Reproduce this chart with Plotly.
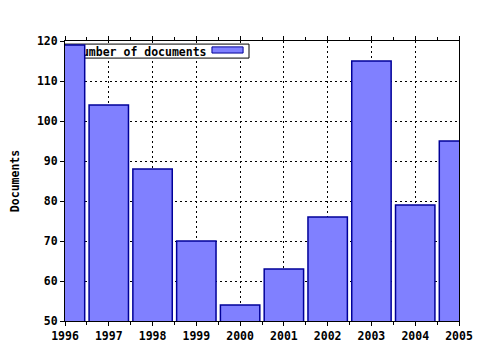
import plotly.graph_objects as go

years = [1996, 1997, 1998, 1999, 2000, 2001, 2002, 2003, 2004, 2005]
documents = [119, 104, 88, 70, 54, 63, 76, 115, 79, 95]
series_name = "Number of documents"
y_title = "Documents"

FILL = "#8080ff"
EDGE = "#000099"
FONT = dict(family="DejaVu Sans Mono", size=11.5, color="black", weight="bold")

X_RANGE = [1996, 2005]
Y_RANGE = [50, 120]


def fx(f):
    return X_RANGE[0] + f * (X_RANGE[1] - X_RANGE[0])


def fy(f):
    return Y_RANGE[0] + f * (Y_RANGE[1] - Y_RANGE[0])


fig = go.Figure()
fig.add_trace(go.Bar(
    x=years, y=documents, name=series_name, width=0.9,
    marker=dict(color=FILL, line=dict(color=EDGE, width=1.5)),
    showlegend=False,
))

# legend box drawn between grid and bars (bars cover it, as in reference)
fig.add_shape(type="rect", xref="x", yref="y",
              x0=fx(0.0), x1=fx(0.467), y0=fy(0.939), y1=fy(0.989), layer="between",
              fillcolor="white", line=dict(color="black", width=1),
              label=dict(text=series_name, textposition="middle left",
                         padding=7, font=FONT))
fig.add_shape(type="rect", xref="x", yref="y",
              x0=fx(0.373), x1=fx(0.452), y0=fy(0.957), y1=fy(0.979), layer="between",
              fillcolor=FILL, line=dict(color=EDGE, width=1))

fig.update_layout(
    width=480, height=350,
    margin=dict(l=65, r=21, t=41, b=29, autoexpand=False),
    paper_bgcolor="white", plot_bgcolor="white",
    font=FONT, bargap=0.1,
)
fig.update_xaxes(
    range=X_RANGE, tickmode="linear", tick0=1996, dtick=1, automargin=False,
    showline=True, linecolor="black", linewidth=1, mirror="ticks",
    ticks="outside", ticklen=4, tickcolor="black",
    showgrid=True, gridcolor="black", griddash="2px,3px", gridwidth=1,
    minor=dict(dtick=0.5, ticks="outside", ticklen=3, tickcolor="black", showgrid=False),
    zeroline=False,
)
fig.update_yaxes(
    range=Y_RANGE, tickmode="linear", tick0=50, dtick=10, automargin=False,
    showline=True, linecolor="black", linewidth=1, mirror=True,
    ticks="outside", ticklen=4, tickcolor="black",
    showgrid=True, gridcolor="black", griddash="2px,3px", gridwidth=1,
    zeroline=False,
    title=dict(text=y_title, standoff=14, font=FONT),
)

fig.write_html("out.html")
